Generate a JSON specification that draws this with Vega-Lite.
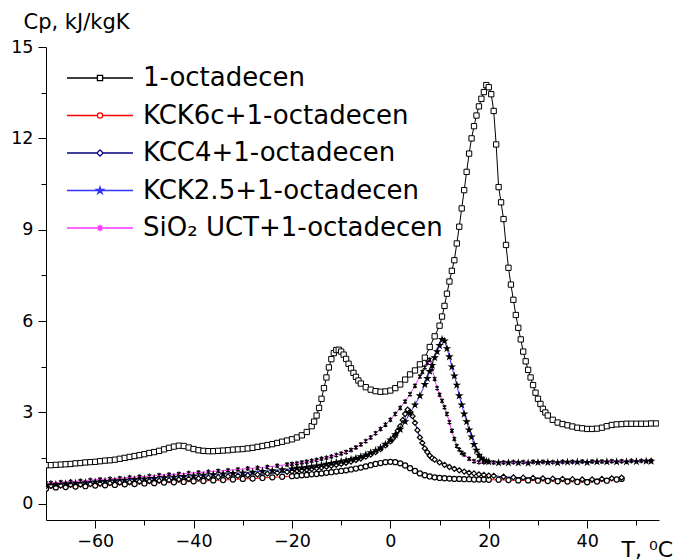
{
"$schema":"https://vega.github.io/schema/vega-lite/v6.json",
"width":613,"height":473,"autosize":"none",
"padding":{"left":46,"top":47,"right":19,"bottom":40},
"background":"white",
"config":{"view":{"stroke":null},"font":"DejaVu Sans",
"axis":{"grid":false,"labelFont":"DejaVu Sans","titleFont":"DejaVu Sans","labelFontSize":17.5,"labelColor":"black","titleColor":"black","domainColor":"black","tickColor":"black","domainWidth":1,"tickWidth":1,"labelFlush":false,"titleFontWeight":"normal"}},
"data":{"values":[
{"s":"a","t":-70,"c":1.27},{"s":"a","t":-69,"c":1.27},{"s":"a","t":-68,"c":1.28},{"s":"a","t":-67,"c":1.29},{"s":"a","t":-66,"c":1.3},{"s":"a","t":-65,"c":1.31},{"s":"a","t":-64,"c":1.33},{"s":"a","t":-63,"c":1.34},{"s":"a","t":-62,"c":1.36},{"s":"a","t":-61,"c":1.37},{"s":"a","t":-60,"c":1.38},{"s":"a","t":-59,"c":1.4},{"s":"a","t":-58,"c":1.42},{"s":"a","t":-57,"c":1.43},{"s":"a","t":-56,"c":1.45},{"s":"a","t":-55,"c":1.48},{"s":"a","t":-54,"c":1.51},{"s":"a","t":-53,"c":1.54},{"s":"a","t":-52,"c":1.57},{"s":"a","t":-51,"c":1.6},{"s":"a","t":-50,"c":1.63},{"s":"a","t":-49,"c":1.67},{"s":"a","t":-48,"c":1.7},{"s":"a","t":-47,"c":1.74},{"s":"a","t":-46,"c":1.79},{"s":"a","t":-45,"c":1.84},{"s":"a","t":-44,"c":1.88},{"s":"a","t":-43,"c":1.91},{"s":"a","t":-42,"c":1.9},{"s":"a","t":-41,"c":1.85},{"s":"a","t":-40,"c":1.8},{"s":"a","t":-39,"c":1.76},{"s":"a","t":-38,"c":1.74},{"s":"a","t":-37,"c":1.73},{"s":"a","t":-36,"c":1.73},{"s":"a","t":-35,"c":1.74},{"s":"a","t":-34,"c":1.75},{"s":"a","t":-33,"c":1.76},{"s":"a","t":-32,"c":1.78},{"s":"a","t":-31,"c":1.79},{"s":"a","t":-30,"c":1.8},{"s":"a","t":-29,"c":1.82},{"s":"a","t":-28,"c":1.84},{"s":"a","t":-27,"c":1.87},{"s":"a","t":-26,"c":1.9},{"s":"a","t":-25,"c":1.93},{"s":"a","t":-24,"c":1.96},{"s":"a","t":-23,"c":2.0},{"s":"a","t":-22,"c":2.04},{"s":"a","t":-21,"c":2.08},{"s":"a","t":-20,"c":2.12},{"s":"a","t":-19,"c":2.18},{"s":"a","t":-18,"c":2.25},{"s":"a","t":-17,"c":2.36},{"s":"a","t":-16,"c":2.55},{"s":"a","t":-15.5,"c":2.7},{"s":"a","t":-15,"c":2.9},{"s":"a","t":-14.5,"c":3.15},{"s":"a","t":-14,"c":3.45},{"s":"a","t":-13.5,"c":3.8},{"s":"a","t":-13,"c":4.15},{"s":"a","t":-12.5,"c":4.48},{"s":"a","t":-12,"c":4.75},{"s":"a","t":-11.5,"c":4.95},{"s":"a","t":-11,"c":5.05},{"s":"a","t":-10.5,"c":5.06},{"s":"a","t":-10,"c":5.0},{"s":"a","t":-9.5,"c":4.9},{"s":"a","t":-9,"c":4.76},{"s":"a","t":-8.5,"c":4.6},{"s":"a","t":-8,"c":4.45},{"s":"a","t":-7.5,"c":4.3},{"s":"a","t":-7,"c":4.17},{"s":"a","t":-6.5,"c":4.05},{"s":"a","t":-6,"c":3.95},{"s":"a","t":-5,"c":3.83},{"s":"a","t":-4,"c":3.75},{"s":"a","t":-3,"c":3.7},{"s":"a","t":-2,"c":3.68},{"s":"a","t":-1,"c":3.69},{"s":"a","t":0,"c":3.72},{"s":"a","t":1,"c":3.8},{"s":"a","t":2,"c":3.92},{"s":"a","t":3,"c":4.08},{"s":"a","t":4,"c":4.25},{"s":"a","t":5,"c":4.38},{"s":"a","t":6,"c":4.58},{"s":"a","t":7,"c":4.8},{"s":"a","t":8,"c":5.15},{"s":"a","t":9,"c":5.5},{"s":"a","t":10,"c":5.85},{"s":"a","t":10.5,"c":6.15},{"s":"a","t":11,"c":6.5},{"s":"a","t":11.5,"c":6.9},{"s":"a","t":12,"c":7.3},{"s":"a","t":12.5,"c":7.65},{"s":"a","t":13,"c":8.0},{"s":"a","t":13.5,"c":8.55},{"s":"a","t":14,"c":9.1},{"s":"a","t":14.5,"c":9.7},{"s":"a","t":15,"c":10.3},{"s":"a","t":15.5,"c":10.9},{"s":"a","t":16,"c":11.5},{"s":"a","t":16.5,"c":12.0},{"s":"a","t":17,"c":12.4},{"s":"a","t":17.5,"c":12.75},{"s":"a","t":18,"c":13.05},{"s":"a","t":18.5,"c":13.3},{"s":"a","t":19,"c":13.52},{"s":"a","t":19.5,"c":13.75},{"s":"a","t":20,"c":13.68},{"s":"a","t":20.5,"c":13.45},{"s":"a","t":21,"c":12.9},{"s":"a","t":21.5,"c":11.8},{"s":"a","t":22,"c":10.4},{"s":"a","t":22.5,"c":9.9},{"s":"a","t":23,"c":9.35},{"s":"a","t":23.5,"c":8.5},{"s":"a","t":24,"c":7.75},{"s":"a","t":24.5,"c":7.2},{"s":"a","t":25,"c":6.7},{"s":"a","t":25.5,"c":6.2},{"s":"a","t":26,"c":5.78},{"s":"a","t":26.5,"c":5.4},{"s":"a","t":27,"c":5.0},{"s":"a","t":27.5,"c":4.68},{"s":"a","t":28,"c":4.4},{"s":"a","t":28.5,"c":4.15},{"s":"a","t":29,"c":3.9},{"s":"a","t":29.5,"c":3.65},{"s":"a","t":30,"c":3.45},{"s":"a","t":30.5,"c":3.28},{"s":"a","t":31,"c":3.12},{"s":"a","t":31.5,"c":3.0},{"s":"a","t":32,"c":2.9},{"s":"a","t":33,"c":2.76},{"s":"a","t":34,"c":2.67},{"s":"a","t":35,"c":2.62},{"s":"a","t":36,"c":2.58},{"s":"a","t":37,"c":2.54},{"s":"a","t":38,"c":2.5},{"s":"a","t":39,"c":2.48},{"s":"a","t":40,"c":2.46},{"s":"a","t":41,"c":2.46},{"s":"a","t":42,"c":2.47},{"s":"a","t":43,"c":2.5},{"s":"a","t":44,"c":2.55},{"s":"a","t":45,"c":2.59},{"s":"a","t":46,"c":2.61},{"s":"a","t":47,"c":2.62},{"s":"a","t":48,"c":2.63},{"s":"a","t":49,"c":2.63},{"s":"a","t":50,"c":2.63},{"s":"a","t":51,"c":2.63},{"s":"a","t":52,"c":2.63},{"s":"a","t":53,"c":2.64},{"s":"a","t":54,"c":2.64},
{"s":"b","t":-70,"c":0.5},{"s":"b","t":-68,"c":0.54},{"s":"b","t":-66,"c":0.55},{"s":"b","t":-64,"c":0.57},{"s":"b","t":-62,"c":0.58},{"s":"b","t":-60,"c":0.6},{"s":"b","t":-58,"c":0.61},{"s":"b","t":-56,"c":0.62},{"s":"b","t":-54,"c":0.64},{"s":"b","t":-52,"c":0.65},{"s":"b","t":-50,"c":0.67},{"s":"b","t":-48,"c":0.68},{"s":"b","t":-46,"c":0.7},{"s":"b","t":-44,"c":0.71},{"s":"b","t":-42,"c":0.72},{"s":"b","t":-40,"c":0.74},{"s":"b","t":-38,"c":0.75},{"s":"b","t":-36,"c":0.77},{"s":"b","t":-34,"c":0.78},{"s":"b","t":-32,"c":0.8},{"s":"b","t":-30,"c":0.82},{"s":"b","t":-28,"c":0.83},{"s":"b","t":-26,"c":0.85},{"s":"b","t":-24,"c":0.87},{"s":"b","t":-22,"c":0.89},{"s":"b","t":-20,"c":0.91},{"s":"b","t":-19,"c":0.92},{"s":"b","t":-18,"c":0.94},{"s":"b","t":-17,"c":0.95},{"s":"b","t":-16,"c":0.97},{"s":"b","t":-15,"c":0.98},{"s":"b","t":-14,"c":1.0},{"s":"b","t":-13,"c":1.02},{"s":"b","t":-12,"c":1.04},{"s":"b","t":-11,"c":1.06},{"s":"b","t":-10,"c":1.08},{"s":"b","t":-9,"c":1.1},{"s":"b","t":-8,"c":1.13},{"s":"b","t":-7,"c":1.16},{"s":"b","t":-6,"c":1.19},{"s":"b","t":-5,"c":1.23},{"s":"b","t":-4,"c":1.27},{"s":"b","t":-3,"c":1.31},{"s":"b","t":-2,"c":1.34},{"s":"b","t":-1,"c":1.37},{"s":"b","t":0,"c":1.38},{"s":"b","t":1,"c":1.37},{"s":"b","t":2,"c":1.33},{"s":"b","t":3,"c":1.26},{"s":"b","t":4,"c":1.17},{"s":"b","t":5,"c":1.08},{"s":"b","t":6,"c":1.0},{"s":"b","t":7,"c":0.94},{"s":"b","t":8,"c":0.9},{"s":"b","t":9,"c":0.87},{"s":"b","t":10,"c":0.85},{"s":"b","t":11,"c":0.84},{"s":"b","t":12,"c":0.83},{"s":"b","t":13,"c":0.82},{"s":"b","t":14,"c":0.82},{"s":"b","t":15,"c":0.81},{"s":"b","t":16,"c":0.81},{"s":"b","t":17,"c":0.8},{"s":"b","t":18,"c":0.8},{"s":"b","t":19,"c":0.8},{"s":"b","t":20,"c":0.79},{"s":"b","t":22,"c":0.79},{"s":"b","t":24,"c":0.78},{"s":"b","t":26,"c":0.77},{"s":"b","t":28,"c":0.77},{"s":"b","t":30,"c":0.76},{"s":"b","t":32,"c":0.75},{"s":"b","t":34,"c":0.74},{"s":"b","t":36,"c":0.73},{"s":"b","t":38,"c":0.72},{"s":"b","t":40,"c":0.71},{"s":"b","t":42,"c":0.73},{"s":"b","t":44,"c":0.76},{"s":"b","t":46,"c":0.8},{"s":"b","t":47,"c":0.82},
{"s":"c","t":-70,"c":0.58},{"s":"c","t":-69,"c":0.59},{"s":"c","t":-67,"c":0.6},{"s":"c","t":-65,"c":0.62},{"s":"c","t":-63,"c":0.63},{"s":"c","t":-61,"c":0.65},{"s":"c","t":-59,"c":0.66},{"s":"c","t":-57,"c":0.68},{"s":"c","t":-55,"c":0.7},{"s":"c","t":-53,"c":0.71},{"s":"c","t":-51,"c":0.73},{"s":"c","t":-49,"c":0.75},{"s":"c","t":-47,"c":0.76},{"s":"c","t":-45,"c":0.78},{"s":"c","t":-43,"c":0.8},{"s":"c","t":-41,"c":0.82},{"s":"c","t":-39,"c":0.84},{"s":"c","t":-37,"c":0.86},{"s":"c","t":-35,"c":0.88},{"s":"c","t":-33,"c":0.9},{"s":"c","t":-31,"c":0.92},{"s":"c","t":-29,"c":0.94},{"s":"c","t":-27,"c":0.96},{"s":"c","t":-25,"c":0.99},{"s":"c","t":-23,"c":1.02},{"s":"c","t":-21,"c":1.05},{"s":"c","t":-20,"c":1.07},{"s":"c","t":-19,"c":1.09},{"s":"c","t":-18,"c":1.1},{"s":"c","t":-17,"c":1.12},{"s":"c","t":-16,"c":1.15},{"s":"c","t":-15,"c":1.17},{"s":"c","t":-14,"c":1.19},{"s":"c","t":-13,"c":1.22},{"s":"c","t":-12,"c":1.25},{"s":"c","t":-11,"c":1.28},{"s":"c","t":-10,"c":1.31},{"s":"c","t":-9,"c":1.35},{"s":"c","t":-8,"c":1.39},{"s":"c","t":-7,"c":1.44},{"s":"c","t":-6,"c":1.49},{"s":"c","t":-5,"c":1.55},{"s":"c","t":-4,"c":1.62},{"s":"c","t":-3,"c":1.7},{"s":"c","t":-2,"c":1.8},{"s":"c","t":-1,"c":1.92},{"s":"c","t":0,"c":2.05},{"s":"c","t":0.5,"c":2.14},{"s":"c","t":1,"c":2.25},{"s":"c","t":1.5,"c":2.4},{"s":"c","t":2,"c":2.55},{"s":"c","t":2.5,"c":2.75},{"s":"c","t":3,"c":2.95},{"s":"c","t":3.5,"c":3.09},{"s":"c","t":4,"c":3.02},{"s":"c","t":4.5,"c":2.88},{"s":"c","t":5,"c":2.66},{"s":"c","t":5.5,"c":2.42},{"s":"c","t":6,"c":2.18},{"s":"c","t":6.5,"c":2.0},{"s":"c","t":7,"c":1.82},{"s":"c","t":7.5,"c":1.7},{"s":"c","t":8,"c":1.58},{"s":"c","t":8.5,"c":1.5},{"s":"c","t":9,"c":1.45},{"s":"c","t":10,"c":1.36},{"s":"c","t":11,"c":1.28},{"s":"c","t":12,"c":1.21},{"s":"c","t":13,"c":1.15},{"s":"c","t":14,"c":1.1},{"s":"c","t":15,"c":1.06},{"s":"c","t":16,"c":1.02},{"s":"c","t":17,"c":1.0},{"s":"c","t":18,"c":0.97},{"s":"c","t":19,"c":0.95},{"s":"c","t":20,"c":0.93},{"s":"c","t":21,"c":0.92},{"s":"c","t":23,"c":0.89},{"s":"c","t":25,"c":0.87},{"s":"c","t":27,"c":0.86},{"s":"c","t":29,"c":0.85},{"s":"c","t":31,"c":0.84},{"s":"c","t":33,"c":0.83},{"s":"c","t":35,"c":0.82},{"s":"c","t":37,"c":0.81},{"s":"c","t":39,"c":0.8},{"s":"c","t":41,"c":0.8},{"s":"c","t":43,"c":0.82},{"s":"c","t":45,"c":0.84},{"s":"c","t":47,"c":0.86},
{"s":"d","t":-70,"c":0.62},{"s":"d","t":-68,"c":0.64},{"s":"d","t":-66,"c":0.66},{"s":"d","t":-64,"c":0.68},{"s":"d","t":-62,"c":0.7},{"s":"d","t":-60,"c":0.72},{"s":"d","t":-58,"c":0.74},{"s":"d","t":-56,"c":0.76},{"s":"d","t":-54,"c":0.78},{"s":"d","t":-52,"c":0.8},{"s":"d","t":-50,"c":0.82},{"s":"d","t":-48,"c":0.84},{"s":"d","t":-46,"c":0.86},{"s":"d","t":-44,"c":0.88},{"s":"d","t":-42,"c":0.9},{"s":"d","t":-40,"c":0.92},{"s":"d","t":-38,"c":0.94},{"s":"d","t":-36,"c":0.96},{"s":"d","t":-34,"c":0.98},{"s":"d","t":-32,"c":1.0},{"s":"d","t":-30,"c":1.02},{"s":"d","t":-28,"c":1.04},{"s":"d","t":-26,"c":1.07},{"s":"d","t":-24,"c":1.09},{"s":"d","t":-22,"c":1.12},{"s":"d","t":-20,"c":1.15},{"s":"d","t":-19,"c":1.17},{"s":"d","t":-18,"c":1.18},{"s":"d","t":-17,"c":1.2},{"s":"d","t":-16,"c":1.22},{"s":"d","t":-15,"c":1.25},{"s":"d","t":-14,"c":1.27},{"s":"d","t":-13,"c":1.3},{"s":"d","t":-12,"c":1.33},{"s":"d","t":-11,"c":1.36},{"s":"d","t":-10,"c":1.39},{"s":"d","t":-9,"c":1.42},{"s":"d","t":-8,"c":1.46},{"s":"d","t":-7,"c":1.5},{"s":"d","t":-6,"c":1.55},{"s":"d","t":-5,"c":1.61},{"s":"d","t":-4,"c":1.68},{"s":"d","t":-3,"c":1.75},{"s":"d","t":-2,"c":1.84},{"s":"d","t":-1,"c":1.96},{"s":"d","t":0,"c":2.1},{"s":"d","t":1,"c":2.27},{"s":"d","t":2,"c":2.45},{"s":"d","t":3,"c":2.7},{"s":"d","t":4,"c":2.98},{"s":"d","t":5,"c":3.25},{"s":"d","t":6,"c":3.55},{"s":"d","t":7,"c":3.92},{"s":"d","t":7.5,"c":4.12},{"s":"d","t":8,"c":4.35},{"s":"d","t":8.5,"c":4.55},{"s":"d","t":9,"c":4.8},{"s":"d","t":9.5,"c":5.0},{"s":"d","t":10,"c":5.2},{"s":"d","t":10.5,"c":5.4},{"s":"d","t":11,"c":5.35},{"s":"d","t":11.5,"c":5.1},{"s":"d","t":12,"c":4.83},{"s":"d","t":12.5,"c":4.5},{"s":"d","t":13,"c":4.2},{"s":"d","t":13.5,"c":3.9},{"s":"d","t":14,"c":3.55},{"s":"d","t":14.5,"c":3.25},{"s":"d","t":15,"c":2.95},{"s":"d","t":15.5,"c":2.7},{"s":"d","t":16,"c":2.43},{"s":"d","t":16.5,"c":2.2},{"s":"d","t":17,"c":1.95},{"s":"d","t":17.5,"c":1.76},{"s":"d","t":18,"c":1.6},{"s":"d","t":18.5,"c":1.5},{"s":"d","t":19,"c":1.43},{"s":"d","t":19.5,"c":1.4},{"s":"d","t":20,"c":1.38},{"s":"d","t":22,"c":1.35},{"s":"d","t":24,"c":1.35},{"s":"d","t":26,"c":1.35},{"s":"d","t":28,"c":1.34},{"s":"d","t":30,"c":1.36},{"s":"d","t":32,"c":1.36},{"s":"d","t":34,"c":1.35},{"s":"d","t":36,"c":1.37},{"s":"d","t":38,"c":1.37},{"s":"d","t":40,"c":1.36},{"s":"d","t":42,"c":1.38},{"s":"d","t":44,"c":1.38},{"s":"d","t":46,"c":1.38},{"s":"d","t":48,"c":1.38},{"s":"d","t":50,"c":1.39},{"s":"d","t":52,"c":1.4},{"s":"d","t":53,"c":1.4},
{"s":"e","t":-70,"c":0.68},{"s":"e","t":-69,"c":0.69},{"s":"e","t":-67,"c":0.71},{"s":"e","t":-65,"c":0.73},{"s":"e","t":-63,"c":0.75},{"s":"e","t":-61,"c":0.78},{"s":"e","t":-59,"c":0.8},{"s":"e","t":-57,"c":0.82},{"s":"e","t":-55,"c":0.84},{"s":"e","t":-53,"c":0.87},{"s":"e","t":-51,"c":0.89},{"s":"e","t":-49,"c":0.91},{"s":"e","t":-47,"c":0.94},{"s":"e","t":-45,"c":0.96},{"s":"e","t":-43,"c":0.98},{"s":"e","t":-41,"c":1.01},{"s":"e","t":-39,"c":1.03},{"s":"e","t":-37,"c":1.05},{"s":"e","t":-35,"c":1.08},{"s":"e","t":-33,"c":1.1},{"s":"e","t":-31,"c":1.13},{"s":"e","t":-29,"c":1.16},{"s":"e","t":-27,"c":1.18},{"s":"e","t":-25,"c":1.21},{"s":"e","t":-23,"c":1.25},{"s":"e","t":-21,"c":1.29},{"s":"e","t":-20,"c":1.31},{"s":"e","t":-19,"c":1.33},{"s":"e","t":-18,"c":1.36},{"s":"e","t":-17,"c":1.38},{"s":"e","t":-16,"c":1.41},{"s":"e","t":-15,"c":1.44},{"s":"e","t":-14,"c":1.48},{"s":"e","t":-13,"c":1.51},{"s":"e","t":-12,"c":1.55},{"s":"e","t":-11,"c":1.6},{"s":"e","t":-10,"c":1.65},{"s":"e","t":-9,"c":1.7},{"s":"e","t":-8,"c":1.77},{"s":"e","t":-7,"c":1.85},{"s":"e","t":-6,"c":1.95},{"s":"e","t":-5,"c":2.06},{"s":"e","t":-4,"c":2.18},{"s":"e","t":-3,"c":2.32},{"s":"e","t":-2,"c":2.46},{"s":"e","t":-1,"c":2.6},{"s":"e","t":0,"c":2.76},{"s":"e","t":1,"c":2.95},{"s":"e","t":2,"c":3.15},{"s":"e","t":3,"c":3.36},{"s":"e","t":4,"c":3.6},{"s":"e","t":5,"c":3.88},{"s":"e","t":6,"c":4.18},{"s":"e","t":6.5,"c":4.33},{"s":"e","t":7,"c":4.48},{"s":"e","t":7.5,"c":4.63},{"s":"e","t":8,"c":4.73},{"s":"e","t":8.5,"c":4.45},{"s":"e","t":9,"c":4.1},{"s":"e","t":9.5,"c":3.8},{"s":"e","t":10,"c":3.58},{"s":"e","t":10.5,"c":3.38},{"s":"e","t":11,"c":3.17},{"s":"e","t":11.5,"c":2.95},{"s":"e","t":12,"c":2.68},{"s":"e","t":12.5,"c":2.4},{"s":"e","t":13,"c":2.13},{"s":"e","t":13.5,"c":1.9},{"s":"e","t":14,"c":1.78},{"s":"e","t":14.5,"c":1.68},{"s":"e","t":15,"c":1.62},{"s":"e","t":16,"c":1.48},{"s":"e","t":17,"c":1.4},{"s":"e","t":18,"c":1.37},{"s":"e","t":19,"c":1.37},{"s":"e","t":21,"c":1.36},{"s":"e","t":23,"c":1.36},{"s":"e","t":25,"c":1.37},{"s":"e","t":27,"c":1.37},{"s":"e","t":29,"c":1.38},{"s":"e","t":31,"c":1.38},{"s":"e","t":33,"c":1.37},{"s":"e","t":35,"c":1.38},{"s":"e","t":37,"c":1.38},{"s":"e","t":39,"c":1.39},{"s":"e","t":41,"c":1.39},{"s":"e","t":43,"c":1.39},{"s":"e","t":45,"c":1.4},{"s":"e","t":47,"c":1.4},{"s":"e","t":49,"c":1.41},{"s":"e","t":51,"c":1.41},{"s":"e","t":53,"c":1.41}
]},
"encoding":{
"x":{"field":"t","type":"quantitative","scale":{"domain":[-70,54.6],"nice":false,"zero":false},
 "axis":{"values":[-60,-50,-40,-30,-20,-10,0,10,20,30,40,50],"labelExpr":"datum.value % 20 === 0 ? datum.label : ''","tickSize":{"condition":{"test":"datum.value % 20 !== 0","value":5},"value":8},"labelPadding":4,"title":"T, ⁰C","titleFontSize":22,"titleAlign":"left","titleBaseline":"alphabetic","titleX":575,"titleY":36,"titleAnchor":"start"}},
"y":{"field":"c","type":"quantitative","scale":{"domain":[-0.53,15],"nice":false,"zero":false},
 "axis":{"values":[0,1.5,3,4.5,6,7.5,9,10.5,12,13.5,15],"labelExpr":"datum.value % 3 === 0 ? datum.label : ''","tickSize":{"condition":{"test":"datum.value % 3 !== 0","value":5},"value":8},"labelPadding":5,"title":"Cp, kJ/kgK","titleFontSize":21,"titleAngle":0,"titleAlign":"left","titleBaseline":"alphabetic","titleX":-23,"titleY":-19,"titleAnchor":"start"}}
},
"layer":[
{"mark":{"type":"line","strokeWidth":1,"clip":true},
 "encoding":{"color":{"field":"s","type":"nominal",
  "scale":{"domain":["a","b","c","d","e"],"range":["#000000","#ff0000","#000080","#3333ff","#ff33ff"]},
  "legend":{"orient":"none","legendX":40,"legendY":17,"title":null,"padding":0,"symbolSize":676,"symbolStrokeWidth":1.3,"symbolOffset":0,"labelOffset":29,"rowPadding":10.5,"labelFontSize":26,"labelFont":"DejaVu Sans","labelColor":"black","labelLimit":500,
   "labelExpr":"datum.value==='a'?'1-octadecen':datum.value==='b'?'KCK6c+1-octadecen':datum.value==='c'?'KCC4+1-octadecen':datum.value==='d'?'KCK2.5+1-octadecen':'SiO₂ UCT+1-octadecen'",
   "encoding":{"symbols":{
    "shape":{"condition":[
     {"test":"datum.value==='a'","value":"M-2.54,0H-0.2M0.2,0H2.54M-0.2,-0.2H0.2V0.2H-0.2Z"},
     {"test":"datum.value==='b'","value":"M-2.54,0H-0.2M0.2,0H2.54M0.2,0A0.2,0.2,0,1,1,-0.2,0A0.2,0.2,0,1,1,0.2,0Z"},
     {"test":"datum.value==='c'","value":"M-2.54,0H-0.24M0.24,0H2.54M0,-0.24L0.24,0L0,0.24L-0.24,0Z"},
     {"test":"datum.value==='d'","value":"M-2.54,0H2.54M0,-0.28L0.06,-0.09L0.27,-0.09L0.1,0.03L0.17,0.23L0,0.11L-0.17,0.23L-0.1,0.03L-0.27,-0.09L-0.06,-0.09Z"}],
     "value":"M-2.54,0H2.54M-0.18,-0.18L0.18,0.18M-0.18,0.18L0.18,-0.18M0,-0.25V0.25"},
    "fill":{"condition":{"test":"datum.value==='d'","value":"#3333ff"},"value":"white"},
    "opacity":{"value":1}}}}}}},
{"mark":{"type":"point","opacity":1,"clip":true},
 "encoding":{
  "shape":{"condition":[
   {"test":"datum.s==='a'","value":"square"},
   {"test":"datum.s==='b'","value":"circle"},
   {"test":"datum.s==='c'","value":"diamond"},
   {"test":"datum.s==='d'","value":"M0,-1L0.22,-0.31L0.95,-0.31L0.36,0.12L0.59,0.81L0,0.38L-0.59,0.81L-0.36,0.12L-0.95,-0.31L-0.22,-0.31Z"}],
   "value":"M-0.7,-0.7L0.7,0.7M-0.7,0.7L0.7,-0.7M0,-1L0,1"},
  "stroke":{"value":"black"},
  "fill":{"condition":{"test":"datum.s==='d'","value":"black"},"value":"white"},
  "size":{"condition":{"test":"datum.s==='a'","value":28},"value":26},
  "strokeWidth":{"condition":{"test":"datum.s==='a'","value":1},"value":1.2}}}
]
}
